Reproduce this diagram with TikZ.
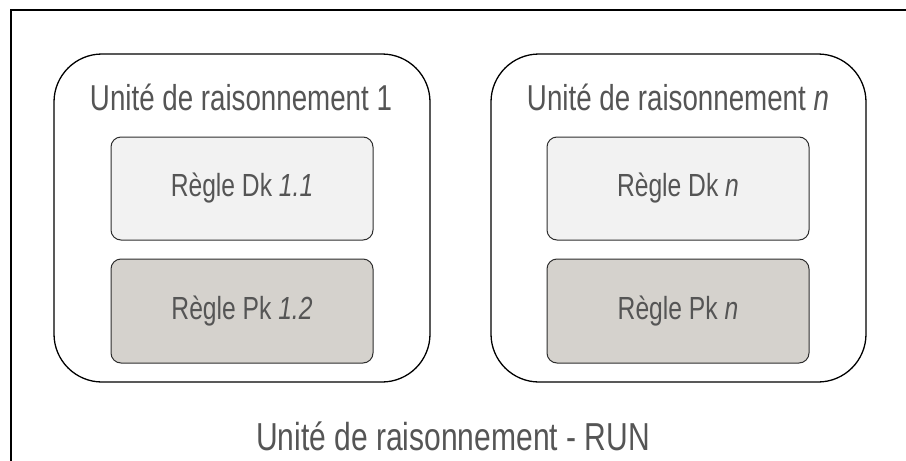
\documentclass[tikz,border=0pt]{standalone}
\usepackage{fontspec}
\setmainfont{Liberation Sans}[FakeStretch=0.77]
\definecolor{txtgray}{HTML}{555555}
\definecolor{dkfill}{HTML}{F2F2F2}
\definecolor{pkfill}{HTML}{D5D2CD}
\definecolor{edgegray}{HTML}{2E2E2E}
\tikzset{
  unitbox/.style={draw=black, line width=1.3pt, rounded corners=48pt, fill=white,
    minimum width=376pt, minimum height=328pt, inner sep=0pt},
  dkbox/.style={draw=edgegray, line width=1pt, rounded corners=10pt, fill=dkfill,
    minimum width=262pt, minimum height=103pt, inner sep=0pt, text=txtgray,
    font=\fontsize{32}{36}\selectfont},
  pkbox/.style={dkbox, fill=pkfill, minimum height=104pt},
  unittitle/.style={anchor=base, text=txtgray, inner sep=0pt, font=\fontsize{36}{40}\selectfont},
  bigtitle/.style={anchor=base, text=txtgray, inner sep=0pt, font=\fontsize{39}{44}\selectfont},
}
\begin{document}
\begin{tikzpicture}[x=1pt,y=-1pt]
\useasboundingbox (0,0) rectangle (906,461);
\fill[white] (0,0) rectangle (906,461);
% outer frame (cropped on right and bottom)
\draw[line width=1.3pt] (11,470) -- (11,10) -- (915,10);
% unit 1
\node[unitbox] (u1) at (242,218) {};
\node[unittitle] (u1t) at (241,110) {Unité de raisonnement 1};
\node[dkbox] (dk1) at (242,188.5) {Règle Dk \textit{1.1}};
\node[pkbox] (pk1) at (242,311) {Règle Pk \textit{1.2}};
% unit n
\node[unitbox, minimum width=375pt] (un) at (678.5,218) {};
\node[unittitle] (unt) at (678,110) {Unité de raisonnement \textit{n}};
\node[dkbox] (dkn) at (678,188.5) {Règle Dk \textit{n}};
\node[pkbox] (pkn) at (678,311) {Règle Pk \textit{n}};
% global title
\node[bigtitle] (run) at (453,450) {Unité de raisonnement - RUN};
\end{tikzpicture}
\end{document}
